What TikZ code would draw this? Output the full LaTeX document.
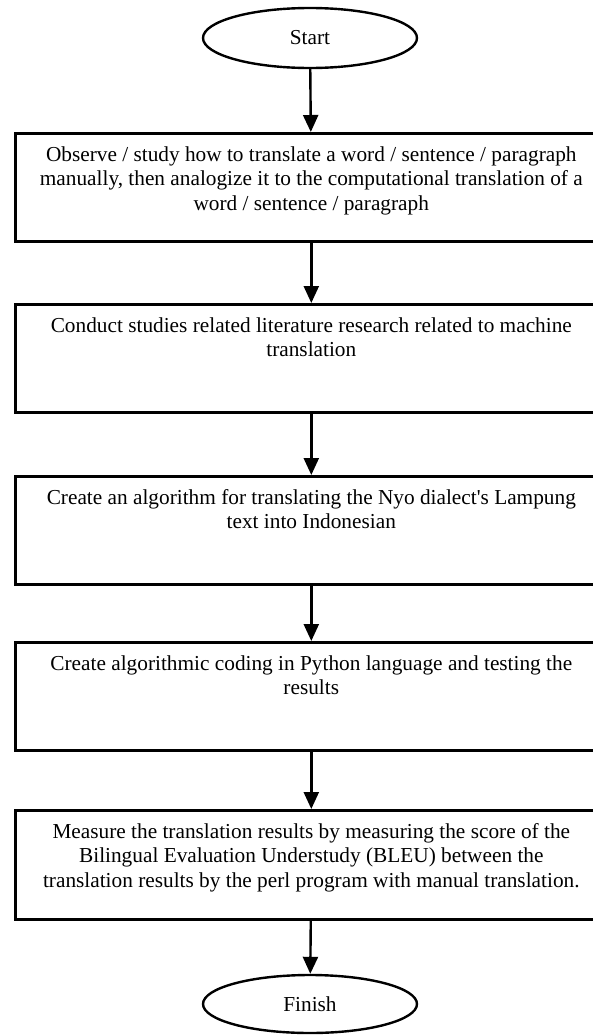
\documentclass[tikz,border=0pt]{standalone}
\usepackage{fontspec}
\setmainfont{Liberation Serif}[Ligatures=TeXOff]
\usetikzlibrary{shapes.geometric,arrows.meta}
\newcommand{\boxtxt}[2]{\parbox[c][#1][t]{560pt}{\centering\vspace*{13pt}#2\par}}
\begin{document}
\begin{tikzpicture}[x=1pt,y=-1pt,
  stepbox/.style={draw, rectangle, line width=2.6pt, inner xsep=16pt, inner ysep=0pt,
                  minimum width=592pt, anchor=north west},
  term/.style={draw, ellipse, line width=2.4pt, minimum width=214pt, minimum height=60pt, inner sep=0pt},
  flow/.style={line width=2.4pt, -{Triangle[width=15pt,length=17pt]}},
  font=\fontsize{21.3pt}{24.5pt}\selectfont]
\useasboundingbox (0,0) rectangle (593,1036);
\node[term] (start) at (310,38) {Start};
\node[stepbox] (b1) at (14,132) {\boxtxt{108pt}{Observe / study how to translate a word / sentence / paragraph\\
manually, then analogize it to the computational translation of a\\
word / sentence / paragraph}};
\node[stepbox] (b2) at (14,303) {\boxtxt{108pt}{Conduct studies related literature research related to machine\\
translation}};
\node[stepbox] (b3) at (14,475) {\boxtxt{108pt}{Create an algorithm for translating the Nyo dialect's Lampung\\
text into Indonesian}};
\node[stepbox] (b4) at (14,641) {\boxtxt{108pt}{Create algorithmic coding in Python language and testing the\\
results}};
\node[stepbox] (b5) at (14,809) {\boxtxt{109pt}{Measure the translation results by measuring the score of the\\
Bilingual Evaluation Understudy (BLEU) between the\\
translation results by the perl program with manual translation.}};
\node[term, minimum height=58pt] (finish) at (310,1004) {Finish};
\draw[flow] (start) -- (b1);
\draw[flow] (b1) -- (b2);
\draw[flow] (b2) -- (b3);
\draw[flow] (b3) -- (b4);
\draw[flow] (b4) -- (b5);
\draw[flow] (b5) -- (finish);
\end{tikzpicture}
\end{document}
